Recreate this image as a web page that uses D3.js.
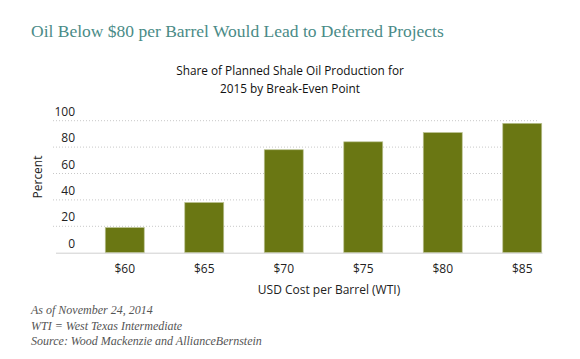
<!DOCTYPE html>
<html><head><meta charset="utf-8">
<script src="https://cdn.jsdelivr.net/npm/d3@7"></script>
<style>
body{margin:0;background:#fff;}
svg{display:block;}
</style></head>
<body><svg id="c" width="580" height="359"></svg>
<script>
const title = "Oil Below $80 per Barrel Would Lead to Deferred Projects";
const subtitleLines = ["Share of Planned Shale Oil Production for", "2015 by Break-Even Point"];
const categories = ["$60", "$65", "$70", "$75", "$80", "$85"];
const values = [19, 38, 78, 84, 91, 98];
const yTicks = [0, 20, 40, 60, 80, 100];
const yLabel = "Percent";
const xLabel = "USD Cost per Barrel (WTI)";
const notes = ["As of November 24, 2014", "WTI = West Texas Intermediate", "Source: Wood Mackenzie and AllianceBernstein"];

const svg = d3.select("#c");
const sans = "'Open Sans', 'Noto Sans', sans-serif";
const serif = "'Liberation Serif', serif";

const x = d3.scaleBand().domain(categories).range([85, 562]).paddingInner(0.51).paddingOuter(0.255);
const y = d3.scaleLinear().domain([0, 100]).range([252.7, 120.7]);

svg.append("text").attr("x", 31).attr("y", 37)
  .attr("font-family", serif).attr("font-size", 17.5)
  .attr("fill", "#4a8b87").text(title);

svg.append("g").selectAll("text").data(subtitleLines).join("text")
  .attr("x", 290).attr("y", (d, i) => 75 + i * 17.5)
  .attr("text-anchor", "middle").attr("font-family", sans).attr("font-size", 11.8)
  .attr("fill", "#111").text(d => d);

// gridlines
svg.append("g").selectAll("line").data(yTicks.filter(d => d > 0)).join("line")
  .attr("x1", 53).attr("x2", 538)
  .attr("y1", d => y(d)).attr("y2", d => y(d))
  .attr("stroke", "#c8c8c8").attr("stroke-width", 1).attr("stroke-dasharray", "1,2");

// y tick labels (placed above the gridline)
svg.append("g").selectAll("text").data(yTicks).join("text")
  .attr("x", 75).attr("y", d => y(d) - 5)
  .attr("text-anchor", "end").attr("font-family", sans).attr("font-size", 12)
  .attr("fill", "#222").text(d => d);

// bars
svg.append("g").selectAll("rect").data(values).join("rect")
  .attr("x", (d, i) => x(categories[i]))
  .attr("width", x.bandwidth())
  .attr("y", d => y(d))
  .attr("height", d => y(0) - y(d))
  .attr("fill", "#6a7713").attr("stroke", "#b9c190").attr("stroke-width", 0.7);

// baseline axis
svg.append("line").attr("x1", 56).attr("x2", 542.5).attr("y1", y(0) + 0.5).attr("y2", y(0) + 0.5)
  .attr("stroke", "#cfcfcf").attr("stroke-width", 1);

// x tick labels
svg.append("g").selectAll("text").data(categories).join("text")
  .attr("x", d => x(d) + x.bandwidth() / 2).attr("y", 273)
  .attr("text-anchor", "middle").attr("font-family", sans).attr("font-size", 12)
  .attr("fill", "#222").text(d => d);

svg.append("text").attr("x", 329).attr("y", 293.5)
  .attr("text-anchor", "middle").attr("font-family", sans).attr("font-size", 12)
  .attr("fill", "#222").text(xLabel);

svg.append("text").attr("transform", "translate(42,177) rotate(-90)")
  .attr("text-anchor", "middle").attr("font-family", sans).attr("font-size", 12)
  .attr("fill", "#222").text(yLabel);

svg.append("g").selectAll("text").data(notes).join("text")
  .attr("x", 31).attr("y", (d, i) => 314 + i * 15.5)
  .attr("font-family", serif).attr("font-style", "italic").attr("font-size", 12)
  .attr("fill", "#555").text(d => d);
</script></body></html>
